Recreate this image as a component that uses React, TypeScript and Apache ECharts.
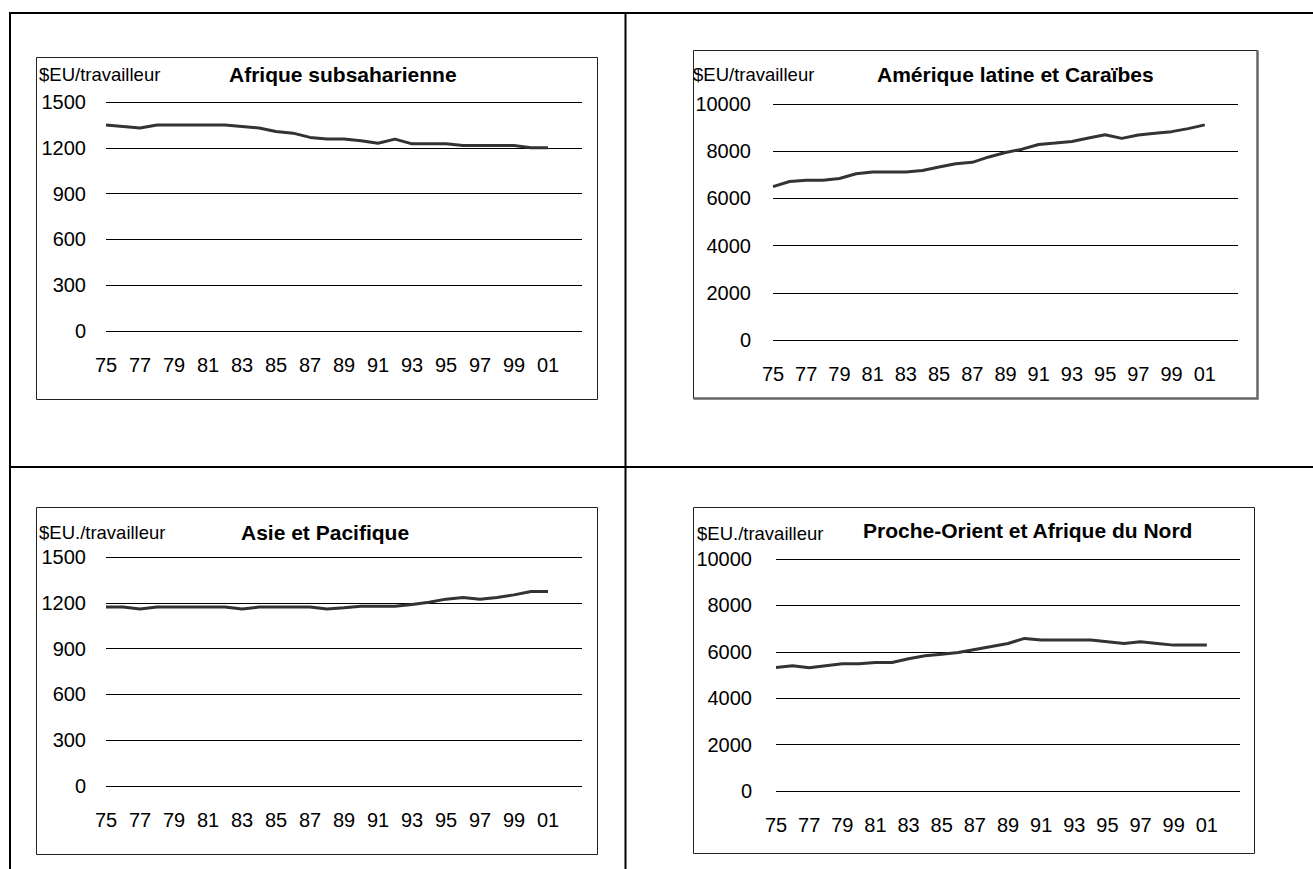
import React, { useEffect, useRef } from "react";
import * as echarts from "echarts";

const years = [
  "75", "76", "77", "78", "79", "80", "81", "82", "83", "84", "85", "86", "87", "88", "89",
  "90", "91", "92", "93", "94", "95", "96", "97", "98", "99", "00", "01", "02", "03",
];

const afriqueSub = [
  1350, 1340, 1330, 1350, 1350, 1350, 1350, 1350, 1340, 1330, 1307, 1296, 1268, 1257, 1257,
  1246, 1230, 1257, 1226, 1226, 1226, 1215, 1215, 1215, 1215, 1200, 1200,
];
const ameriqueLatine = [
  6500, 6714, 6771, 6771, 6843, 7043, 7114, 7114, 7114, 7186, 7329, 7471, 7529, 7757, 7943,
  8086, 8286, 8343, 8414, 8557, 8700, 8543, 8686, 8757, 8829, 8957, 9114,
];
const asiePacifique = [
  1172, 1172, 1159, 1172, 1172, 1172, 1172, 1172, 1159, 1172, 1172, 1172, 1172, 1159, 1168,
  1178, 1178, 1178, 1189, 1204, 1224, 1235, 1224, 1235, 1252, 1274, 1274,
];
const procheOrient = [
  5324, 5396, 5310, 5396, 5482, 5482, 5540, 5540, 5698, 5827, 5899, 5971, 6101, 6230, 6360,
  6576, 6504, 6504, 6504, 6504, 6432, 6360, 6432, 6360, 6288, 6288, 6288,
];

const titles = [
  "Afrique subsaharienne",
  "Amérique latine et Caraïbes",
  "Asie et Pacifique",
  "Proche-Orient et Afrique du Nord",
];
const units = ["$EU/travailleur", "$EU/travailleur", "$EU./travailleur", "$EU./travailleur"];

const FONT = "'Liberation Sans', Arial, sans-serif";

export default function App() {
  const ref = useRef<HTMLDivElement>(null);
  useEffect(() => {
    if (!ref.current) return;
    const chart = echarts.init(ref.current, undefined, { renderer: "svg" });
    const grids = [
      { left: 106, top: 102, width: 476, height: 229 },
      { left: 773, top: 104, width: 465, height: 236 },
      { left: 106, top: 557, width: 476, height: 229 },
      { left: 776, top: 559, width: 464, height: 232 },
    ];
    const maxes = [1500, 10000, 1500, 10000];
    const intervals = [300, 2000, 300, 2000];
    const yMargins = [20, 22, 20, 24];
    const datas = [afriqueSub, ameriqueLatine, asiePacifique, procheOrient];

    const xAxis = grids.map((_, i) => ({
      type: "category",
      gridIndex: i,
      data: years,
      boundaryGap: false,
      axisLine: { show: false },
      axisTick: { show: false },
      splitLine: { show: false },
      axisLabel: {
        interval: 1,
        margin: 24,
        color: "#000",
        fontSize: 20,
        fontFamily: FONT,
        formatter: (v: string) => (v === "03" ? "" : v),
      },
    }));
    const yAxis = grids.map((_, i) => ({
      type: "value",
      gridIndex: i,
      min: 0,
      max: maxes[i],
      interval: intervals[i],
      axisLine: { show: false },
      axisTick: { show: false },
      splitLine: { show: true, lineStyle: { color: "#000", width: 1 } },
      axisLabel: {
        margin: yMargins[i],
        color: "#000",
        fontSize: 20,
        fontFamily: FONT,
        formatter: (v: number) => String(v),
      },
    }));
    const series = datas.map((d, i) => ({
      type: "line",
      xAxisIndex: i,
      yAxisIndex: i,
      data: d,
      showSymbol: false,
      symbol: "none",
      lineStyle: { color: "#333", width: 3 },
    }));

    const boxes = [
      { x: 36.5, y: 57.5, w: 561, h: 342 },
      { x: 693.5, y: 50.5, w: 564, h: 348 },
      { x: 36.5, y: 507.5, w: 561, h: 347 },
      { x: 693.5, y: 507.5, w: 561, h: 346 },
    ];
    const unitPos = [
      { x: 39, y: 74 },
      { x: 693, y: 74 },
      { x: 39, y: 532 },
      { x: 697, y: 533 },
    ];
    const titlePos = [
      { x: 229, y: 74 },
      { x: 877, y: 74 },
      { x: 241, y: 532 },
      { x: 863, y: 530 },
    ];

    const graphic: any[] = [];
    const tl = { stroke: "#000", lineWidth: 2 };
    graphic.push({ type: "line", shape: { x1: 10, y1: 13, x2: 1313, y2: 13 }, style: tl });
    graphic.push({ type: "line", shape: { x1: 10, y1: 12, x2: 10, y2: 869 }, style: tl });
    graphic.push({ type: "line", shape: { x1: 625.5, y1: 13, x2: 625.5, y2: 869 }, style: tl });
    graphic.push({ type: "line", shape: { x1: 10, y1: 467, x2: 1313, y2: 467 }, style: tl });
    boxes.forEach((b, i) => {
      graphic.push({
        type: "rect",
        shape: { x: b.x, y: b.y, width: b.w, height: b.h },
        style: { fill: "none", stroke: "#222", lineWidth: 1 },
        z: 0,
      });
      if (i === 1) {
        graphic.push({
          type: "polyline",
          shape: { points: [[b.x + b.w, b.y], [b.x + b.w, b.y + b.h], [b.x, b.y + b.h]] },
          style: { fill: "none", stroke: "#666", lineWidth: 2.5 },
        });
      }
    });
    units.forEach((u, i) => {
      graphic.push({
        type: "text",
        x: unitPos[i].x,
        y: unitPos[i].y,
        style: {
          text: u,
          fill: "#000",
          font: `18.5px ${FONT}`,
          verticalAlign: "middle",
          align: "left",
        },
      });
    });
    titles.forEach((t, i) => {
      graphic.push({
        type: "text",
        x: titlePos[i].x,
        y: titlePos[i].y,
        style: {
          text: t,
          fill: "#000",
          font: `bold 21px ${FONT}`,
          verticalAlign: "middle",
          align: "left",
        },
      });
    });

    chart.setOption({
      animation: false,
      backgroundColor: "#fff",
      grid: grids.map((g) => ({ ...g, containLabel: false })),
      xAxis,
      yAxis,
      series,
      graphic,
    } as any);
    return () => chart.dispose();
  }, []);
  return (
    <div
      ref={ref}
      style={{ position: "fixed", left: 0, top: 0, width: 1313, height: 869 }}
    />
  );
}
